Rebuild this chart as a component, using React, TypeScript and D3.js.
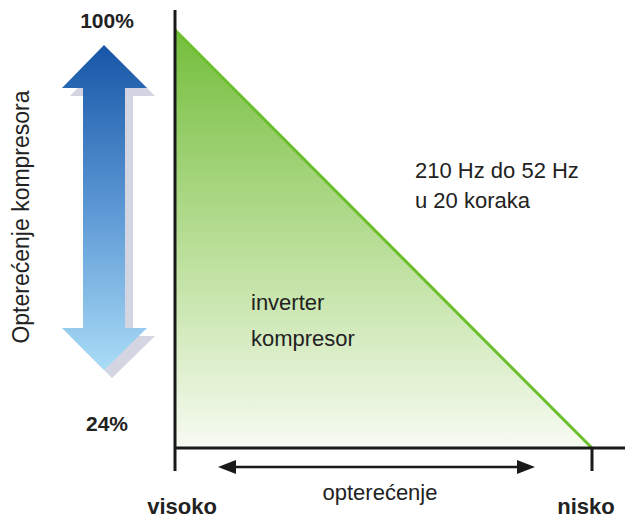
import React, { useRef, useEffect } from 'react';
import * as d3 from 'd3';

// load range and frequency labels
const endLabels = ['visoko', 'nisko'];
const loadValues = [100, 0];
const compressorRange = ['100%', '24%'];
const axisTitle = 'opterećenje';
const sideTitle = 'Opterećenje kompresora';
const freqLines = ['210 Hz do 52 Hz', 'u 20 koraka'];
const areaLines = ['inverter', 'kompresor'];

const App = () => {
  const svgRef = useRef<SVGSVGElement>(null);

  useEffect(() => {
    const width = 625;
    const height = 520;
    const font = '"Liberation Sans", Arial, sans-serif';

    const svg = d3.select(svgRef.current)
      .attr('width', width)
      .attr('height', height)
      .style('display', 'block')
      .style('position', 'absolute')
      .style('left', 0)
      .style('top', 0);
    svg.selectAll('*').remove();

    const defs = svg.append('defs');
    const green = defs.append('linearGradient')
      .attr('id', 'greenFill')
      .attr('x1', 0).attr('y1', 0).attr('x2', 0).attr('y2', 1);
    green.append('stop').attr('offset', '0%').attr('stop-color', '#74be3c');
    green.append('stop').attr('offset', '55%').attr('stop-color', '#bde09d');
    green.append('stop').attr('offset', '100%').attr('stop-color', '#f7fbf2');

    const blue = defs.append('linearGradient')
      .attr('id', 'blueFill')
      .attr('x1', 0).attr('y1', 0).attr('x2', 0).attr('y2', 1);
    blue.append('stop').attr('offset', '0%').attr('stop-color', '#1656a6');
    blue.append('stop').attr('offset', '50%').attr('stop-color', '#5b97d4');
    blue.append('stop').attr('offset', '100%').attr('stop-color', '#a9dcf6');

    // scales
    const x = d3.scalePoint().domain(endLabels).range([175, 592]);
    const y = d3.scaleLinear().domain([0, 100]).range([448, 30]);

    // triangle
    const pts: [number, number][] = endLabels.map((d, i) => [x(d)!, y(loadValues[i])]);
    const area = d3.area<[number, number]>()
      .x(d => d[0])
      .y0(y(0))
      .y1(d => d[1]);
    svg.append('path')
      .datum(pts)
      .attr('d', area)
      .attr('fill', 'url(#greenFill)');
    svg.append('path')
      .datum(pts)
      .attr('d', d3.line())
      .attr('fill', 'none')
      .attr('stroke', '#6cbf2c')
      .attr('stroke-width', 3);

    // axes
    const x0 = x(endLabels[0])!;
    const x1 = x(endLabels[1])!;
    svg.append('line')
      .attr('x1', x0).attr('x2', x0)
      .attr('y1', 10).attr('y2', 471)
      .attr('stroke', '#1a1a1a').attr('stroke-width', 3);
    svg.append('line')
      .attr('x1', x0).attr('x2', width)
      .attr('y1', y(0)).attr('y2', y(0))
      .attr('stroke', '#1a1a1a').attr('stroke-width', 3);
    svg.append('line')
      .attr('x1', x1).attr('x2', x1)
      .attr('y1', y(0)).attr('y2', 471)
      .attr('stroke', '#1a1a1a').attr('stroke-width', 3);

    // double arrow under axis
    const ay = 467;
    const ax0 = 218;
    const ax1 = 535;
    svg.append('line')
      .attr('x1', ax0 + 14).attr('x2', ax1 - 14)
      .attr('y1', ay).attr('y2', ay)
      .attr('stroke', '#1a1a1a').attr('stroke-width', 2.5);
    svg.append('path')
      .attr('d', `M${ax0},${ay} L${ax0 + 18},${ay - 7} L${ax0 + 18},${ay + 7} Z`)
      .attr('fill', '#1a1a1a');
    svg.append('path')
      .attr('d', `M${ax1},${ay} L${ax1 - 18},${ay - 7} L${ax1 - 18},${ay + 7} Z`)
      .attr('fill', '#1a1a1a');

    svg.append('text')
      .attr('x', 380).attr('y', 500)
      .attr('text-anchor', 'middle')
      .attr('font-family', font).attr('font-size', 22)
      .attr('fill', '#222')
      .text(axisTitle);

    svg.selectAll('.end')
      .data(endLabels)
      .join('text')
      .attr('x', (d, i) => x(d)! + (i === 0 ? 7 : -6))
      .attr('y', 514)
      .attr('text-anchor', 'middle')
      .attr('font-family', font).attr('font-size', 22)
      .attr('font-weight', 'bold')
      .attr('fill', '#222')
      .text(d => d);

    // blue double arrow with shadow
    const cx = 104;
    const arrowPath = (dx: number, dy: number) => {
      const top = 45 + dy, headB = 88 + dy, bot = 370 + dy, headT = 328 + dy;
      const hl = 62 + dx, hr = 147 + dx, sl = 83 + dx, sr = 125 + dx, c = cx + dx;
      return `M${c},${top} L${hr},${headB} L${sr},${headB} L${sr},${headT} L${hr},${headT} L${c},${bot} L${hl},${headT} L${sl},${headT} L${sl},${headB} L${hl},${headB} Z`;
    };
    svg.append('path').attr('d', arrowPath(8, 8)).attr('fill', '#d3d6e2');
    svg.append('path').attr('d', arrowPath(0, 0)).attr('fill', 'url(#blueFill)');

    svg.selectAll('.pct')
      .data(compressorRange)
      .join('text')
      .attr('x', 107)
      .attr('y', (d, i) => (i === 0 ? 28 : 431))
      .attr('text-anchor', 'middle')
      .attr('font-family', font).attr('font-size', 21)
      .attr('font-weight', 'bold')
      .attr('fill', '#222')
      .text(d => d);

    svg.append('text')
      .attr('transform', 'translate(29,217) rotate(-90)')
      .attr('text-anchor', 'middle')
      .attr('font-family', font).attr('font-size', 23)
      .attr('fill', '#222')
      .text(sideTitle);

    svg.selectAll('.freq')
      .data(freqLines)
      .join('text')
      .attr('x', 415)
      .attr('y', (d, i) => 178 + i * 30)
      .attr('font-family', font).attr('font-size', 22)
      .attr('fill', '#222')
      .text(d => d);

    svg.selectAll('.inv')
      .data(areaLines)
      .join('text')
      .attr('x', 251)
      .attr('y', (d, i) => 310 + i * 36)
      .attr('font-family', font).attr('font-size', 22)
      .attr('fill', '#222')
      .text(d => d);
  }, []);

  return <svg ref={svgRef} />;
};

export default App;
